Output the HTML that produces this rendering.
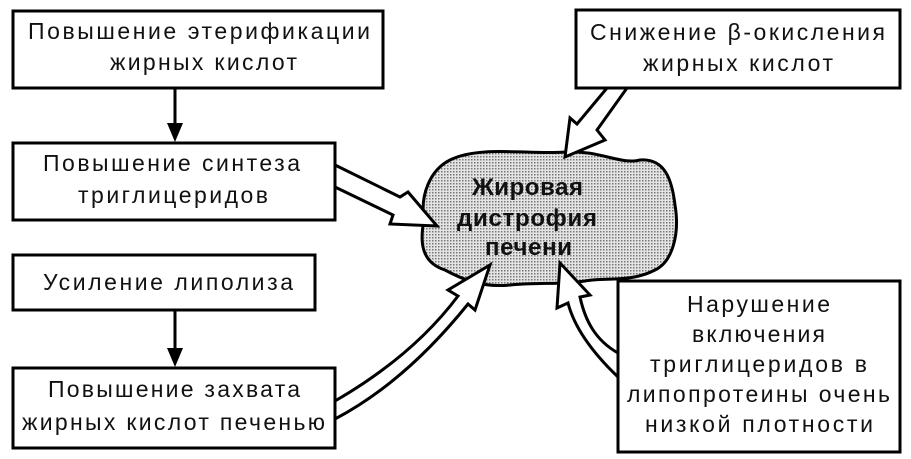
<!DOCTYPE html>
<html><head><meta charset="utf-8"><style>
html,body{margin:0;padding:0;background:#fff;width:911px;height:459px;overflow:hidden}
svg{display:block}
text{font-family:"Liberation Sans",sans-serif;font-size:23px;fill:#111}
.b{font-weight:bold;font-size:24px}
</style></head><body>
<svg width="911" height="459" viewBox="0 0 911 459" xmlns="http://www.w3.org/2000/svg">
<defs>
<pattern id="dots" width="3" height="3" patternUnits="userSpaceOnUse">
<rect width="3" height="3" fill="#e4e4e4"/><rect width="1.5" height="1.5" fill="#777"/>
</pattern>
</defs>
<g fill="#fff" stroke="#000" stroke-width="3">
<rect x="13" y="11" width="370" height="77"/>
<rect x="13" y="143" width="322" height="77"/>
<rect x="13" y="255" width="302" height="55"/>
<rect x="13" y="368" width="322" height="80"/>
<rect x="576" y="10" width="324" height="78"/>
<rect x="618" y="281" width="282" height="171"/>
</g>
<g stroke="#000" stroke-width="3">
<line x1="175" y1="88" x2="175" y2="125"/>
<line x1="175" y1="310" x2="175" y2="350"/>
</g>
<polygon points="167,123 183,123 175,142" fill="#000"/>
<polygon points="167,348 183,348 175,367" fill="#000"/>
<path d="M565,152 C600,150 620,165 640,160 C665,158 672,180 675,205 C680,235 672,262 655,270 C630,283 605,277 585,281 C560,285 540,282 510,285 C480,288 460,278 445,270 C420,262 420,240 424,220 C420,195 430,170 450,160 C480,145 530,155 565,152 Z" fill="url(#dots)" stroke="#000" stroke-width="3"/>
<g fill="#fff" stroke="#000" stroke-width="3" stroke-linejoin="miter">
<polygon points="335,165 400,197 408,192 437,226 390,224 393,215 335,187"/>
<polygon points="607,88 627,88 597,130 605,140 565,157 570,118 577,124"/>
<path d="M335,401 C380,375 425,340 458,296 L448,290 L490,265 L475,310 L468,304 C435,345 390,390 335,419 Z"/>
<path d="M618,353 C595,340 585,320 580,297 L590,295 L560,263 L557,308 L568,303 C575,330 595,355 618,377 Z"/>
</g>
<g lengthAdjust="spacingAndGlyphs">
<text x="28" y="39" textLength="342">Повышение этерификации</text>
<text x="110" y="70" textLength="187">жирных кислот</text>
<text x="43" y="171" textLength="257">Повышение синтеза</text>
<text x="78" y="203" textLength="190">триглицеридов</text>
<text x="43" y="290" textLength="250">Усиление липолиза</text>
<text x="48" y="397" textLength="252">Повышение захвата</text>
<text x="22" y="430" textLength="303">жирных кислот печенью</text>
<text x="590" y="40" textLength="295">Снижение β-окисления</text>
<text x="643" y="71" textLength="190">жирных кислот</text>
<text x="687" y="312" textLength="143">Нарушение</text>
<text x="692" y="342" textLength="133">включения</text>
<text x="650" y="372" textLength="217">триглицеридов в</text>
<text x="627" y="402" textLength="263">липопротеины очень</text>
<text x="645" y="432" textLength="228">низкой плотности</text>
<text class="b" x="472" y="195" textLength="111">Жировая</text>
<text class="b" x="457" y="226" textLength="140">дистрофия</text>
<text class="b" x="485" y="255" textLength="87">печени</text>
</g>
</svg>
</body></html>
